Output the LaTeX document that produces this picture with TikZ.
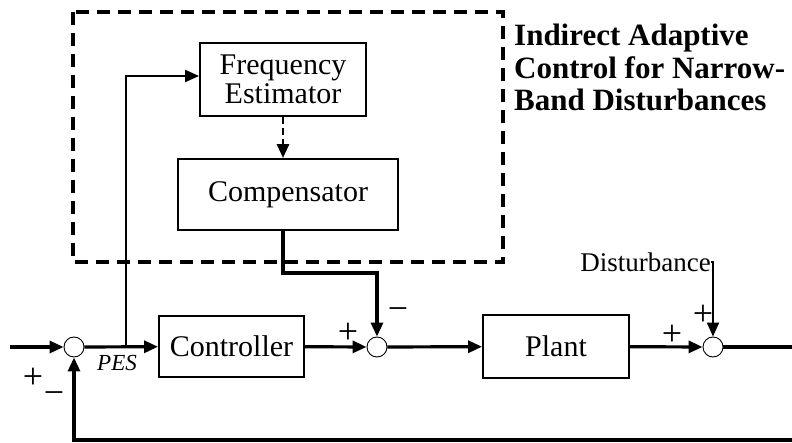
\documentclass[tikz,border=0pt]{standalone}
\usepackage{fontspec}
\setmainfont{Liberation Serif}
\usetikzlibrary{arrows.meta}
\begin{document}
\begin{tikzpicture}[x=1pt,y=-1pt,
  blk/.style={draw, line width=1.9pt, inner sep=0pt, align=center,
    font=\fontsize{30}{29}\selectfont},
  sumj/.style={circle, draw, line width=0.9pt, minimum size=20pt, inner sep=0pt},
  tip/.style={-{Triangle[length=14pt,width=12pt]}},
  sig/.style={tip, line width=3.2pt},
  thinsig/.style={tip, line width=2pt},
  sgn/.style={inner sep=0pt, font=\fontsize{36}{36}\selectfont},
  ttl/.style={anchor=base west, inner sep=0pt, font=\fontsize{31}{32}\selectfont\bfseries},
]
\useasboundingbox (0,0) rectangle (792,443);

% adaptive loop enclosure
\draw[line width=3.2pt, dash pattern=on 13pt off 8pt] (73,12) rectangle (503,262);

% title of the enclosure
\node[ttl] (t1) at (514,46) {Indirect Adaptive};
\node[ttl] (t2) at (514,78.5) {Control for Narrow-};
\node[ttl] (t3) at (514,111) {Band Disturbances};

% blocks
\node[blk, minimum width=166pt, minimum height=73pt] (fe) at (283,79.5)
  {Frequency\\Estimator};
\node[blk, minimum width=220pt, minimum height=71pt] (comp) at (288,194.5) {Compensator};
\node[blk, minimum width=145pt, minimum height=61pt] (ctrl) at (231.5,346.5) {Controller};
\node[blk, minimum width=146pt, minimum height=63pt] (plant) at (556,346.5) {Plant};

% summing junctions
\node[sumj] (j1) at (74,347) {};
\node[sumj] (j2) at (377,347) {};
\node[sumj] (j3) at (713,347) {};

% free ends and branch points
\coordinate (in) at (10,347);
\coordinate (out) at (792,347);
\coordinate (fb) at (792,440);
\coordinate (pes) at (126,347);

% main forward path
\draw[sig] (in) -- (j1);
\draw[sig] (j1) -- (ctrl);
\draw[sig] (ctrl) -- (j2);
\draw[sig] (j2) -- (plant);
\draw[sig] (plant) -- (j3);
\draw[line width=3.2pt] (j3) -- (out);

% feedback path
\draw[sig] (fb) -| (j1);

% error signal to the frequency estimator
\draw[thinsig] (pes) |- ([yshift=3.5pt]fe.west);

% estimator to compensator
\draw[tip, line width=2.8pt, dash pattern=on 7pt off 4pt] (fe.south) -- (fe.south |- comp.north);

% compensator output into the loop
\draw[sig] (fe.south |- comp.south) -- ++(0,42) -| (j2.north);

% disturbance input
\node[inner sep=0pt, anchor=east, font=\fontsize{27}{27}\selectfont] (dist) at (711,262) {Disturbance};
\draw[thinsig] (dist.east) -| (j3.north);

% labels
\node[inner sep=0pt, font=\fontsize{23}{23}\selectfont\itshape] (pesl) at (117,363) {PES};
\node[sgn] (p1) at (33,378) {+};
\node[sgn] (m1) at (54,398) {−};
\node[sgn] (p2) at (348,333) {+};
\node[sgn] (m2) at (398,314) {−};
\node[sgn] (p3) at (672,335) {+};
\node[sgn] (p4) at (703,315) {+};
\end{tikzpicture}
\end{document}
